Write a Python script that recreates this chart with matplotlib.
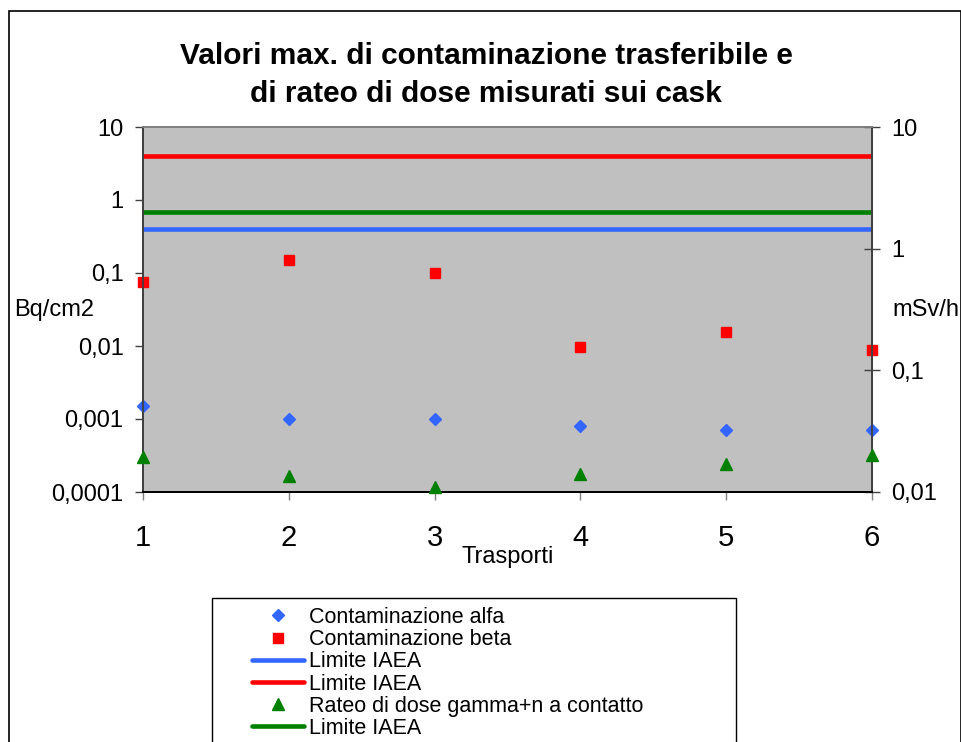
import numpy as np
import matplotlib
matplotlib.use('Agg')
import matplotlib.pyplot as plt
from matplotlib.patches import Rectangle
from matplotlib.legend_handler import HandlerLine2D

# valori
trasporti = [1, 2, 3, 4, 5, 6]
alfa = [0.00153, 0.001, 0.001, 0.0008, 0.0007, 0.0007]       # Bq/cm2
beta = [0.076, 0.153, 0.1, 0.0098, 0.0156, 0.0087]           # Bq/cm2
dose = [0.0194, 0.0136, 0.0109, 0.0141, 0.0169, 0.0202]      # mSv/h
lim_alfa = 0.4
lim_beta = 4.0
lim_dose = 2.0

left_ticks = [0.0001, 0.001, 0.01, 0.1, 1, 10]
left_labels = ['0,0001', '0,001', '0,01', '0,1', '1', '10']
right_ticks = [0.01, 0.1, 1, 10]
right_labels = ['0,01', '0,1', '1', '10']

plt.rcParams['font.family'] = ['Liberation Sans', 'DejaVu Sans']

W, H = 962, 742
fig = plt.figure(figsize=(W / 100, H / 100), dpi=100)
ax = fig.add_axes([143 / W, 1 - 492 / H, (872 - 143) / W, (492 - 127) / H])
ax2 = ax.twinx()

blue = '#3366FF'
red = '#FF0000'
green = '#008000'

ax.set_facecolor('#C0C0C0')
h1, = ax.plot(trasporti, alfa, 'D', ls='none', color=blue, ms=6.2, clip_on=False, zorder=5)
h2, = ax.plot(trasporti, beta, 's', ls='none', color=red, ms=7.6, clip_on=False, zorder=5)
h3, = ax.plot(trasporti, [lim_alfa] * len(trasporti), color=blue, lw=3.3, solid_capstyle='round')
h4, = ax.plot(trasporti, [lim_beta] * len(trasporti), color=red, lw=3.3, solid_capstyle='round')
h5, = ax2.plot(trasporti, dose, '^', ls='none', color=green, ms=8.8, clip_on=False, zorder=5)
h6, = ax2.plot(trasporti, [lim_dose] * len(trasporti), color=green, lw=3.3, solid_capstyle='round')

ax.set_yscale('log')
ax.set_ylim(0.0001, 10)
ax.set_xlim(1, 6)
ax.set_yticks(left_ticks)
ax.set_yticklabels(left_labels, fontsize=17)
ax.minorticks_off()
ax.set_xticks(trasporti)
ax.set_xticklabels([str(t) for t in trasporti], fontsize=21)
ax.tick_params(axis='y', direction='out', length=6, width=1, color='#404040', pad=8)
ax.tick_params(axis='x', direction='out', length=6, width=1, color='#808080', pad=17)

ax2.set_yscale('log')
ax2.set_ylim(0.01, 10)
ax2.set_yticks(right_ticks)
ax2.set_yticklabels(right_labels, fontsize=17)
ax2.minorticks_off()
ax2.tick_params(axis='y', direction='inout', length=11, width=1, color='#404040', pad=8.5)

for a in (ax, ax2):
    a.spines['top'].set_color('#808080')
    a.spines['left'].set_color('#404040')
    a.spines['right'].set_color('#404040')
    a.spines['bottom'].set_color('black')
    for s in a.spines.values():
        s.set_linewidth(1.3)

ax.set_xlabel('Trasporti', fontsize=17, labelpad=-4)
fig.text(14 / W, 1 - 310 / H, 'Bq/cm2', fontsize=17, ha='left', va='center')
fig.text(892 / W, 1 - 310 / H, 'mSv/h', fontsize=17, ha='left', va='center')

fig.text(486 / W, 1 - 102 / H,
         'Valori max. di contaminazione trasferibile e\ndi rateo di dose misurati sui cask',
         fontsize=21.5, fontweight='bold', ha='center', va='baseline', linespacing=1.46)

# bordo del grafico
fig.patches.append(Rectangle((9 / W, -0.05), (961 - 9) / W, 1.05 - 11 / H,
                             transform=fig.transFigure, fill=False,
                             edgecolor='black', lw=1.2))

fs = 15.5
fpx = fs * 100 / 72
hmap = {h: HandlerLine2D(xpad=31 / fpx) for h in (h1, h2, h3, h4, h5, h6)}
leg = fig.legend([h1, h2, h3, h4, h5, h6],
                 ['Contaminazione alfa', 'Contaminazione beta', 'Limite IAEA',
                  'Limite IAEA', 'Rateo di dose gamma+n a contatto', 'Limite IAEA'],
                 loc='upper left', bbox_to_anchor=(212 / W, 1 - 598 / H - 0.01, (736 - 212) / W, 0.01),
                 mode='expand', borderaxespad=0, fontsize=fs, numpoints=1,
                 handlelength=83 / fpx, handletextpad=5 / fpx, borderpad=9 / fpx,
                 labelspacing=0.055, fancybox=False, edgecolor='black',
                 framealpha=1, handler_map=hmap)
leg.get_frame().set_linewidth(1.0)

fig.savefig('out.png', dpi=100)
